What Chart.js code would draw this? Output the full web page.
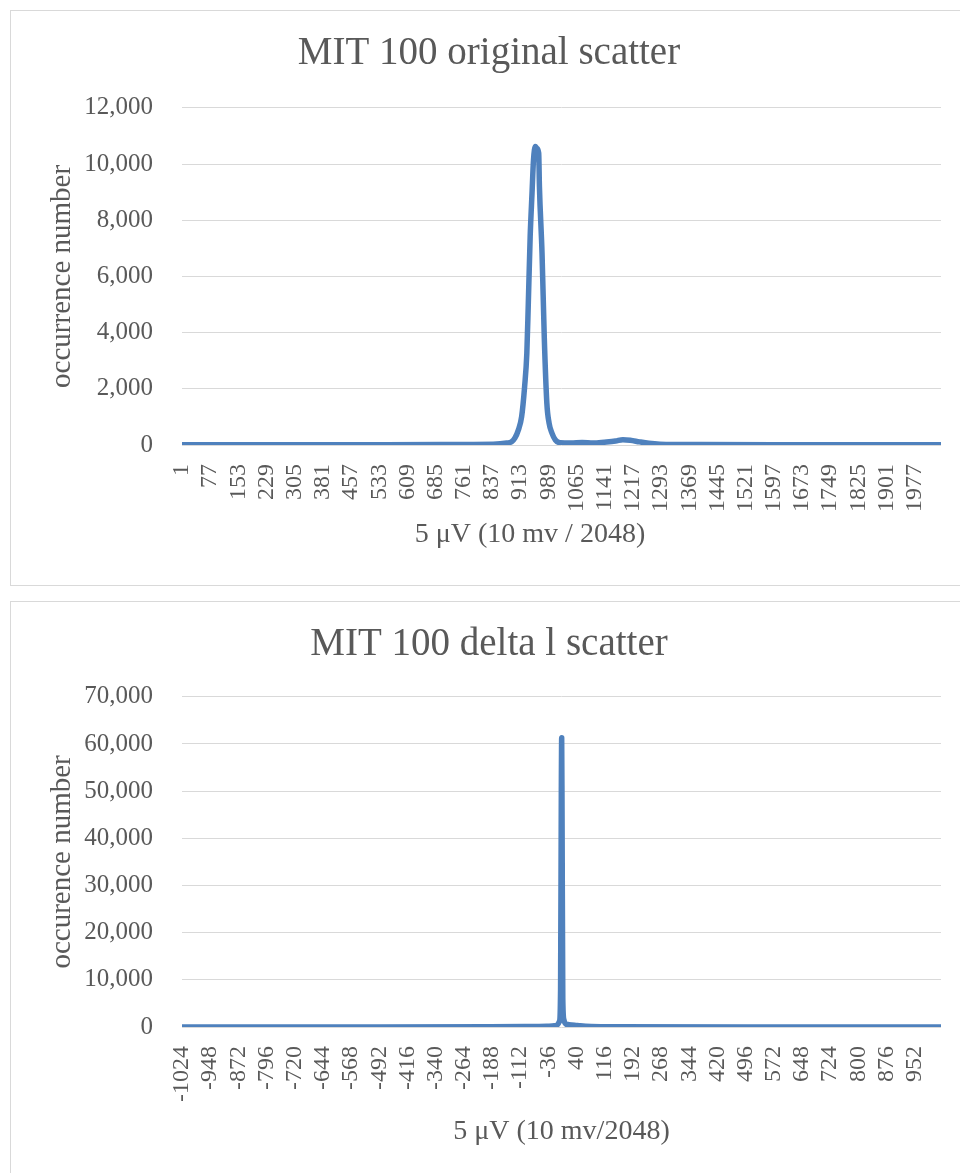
<!DOCTYPE html>
<html>
<head>
<meta charset="utf-8">
<title>MIT 100 scatter</title>
<script src="https://cdn.jsdelivr.net/npm/chart.js@4.4.1/dist/chart.umd.min.js"></script>
<style>
  html, body { margin: 0; padding: 0; background: #fff; overflow: hidden; }
  body { width: 960px; height: 1173px; position: relative; }
  .panel { position: absolute; left: 10px; width: 980px; border: 1px solid #d9d9d9; box-sizing: border-box; background: #fff; }
  #panelTop { top: 10px; height: 576px; }
  #panelBottom { top: 601px; height: 620px; }
  canvas { display: block; }
</style>
</head>
<body>
<div class="panel" id="panelTop"><canvas id="originalChart" width="949" height="573"></canvas></div>
<div class="panel" id="panelBottom"><canvas id="deltaChart" width="949" height="575"></canvas></div>
<script>
// Original signal histogram (x = sample value, y = occurrences)
const originalX = [1, 400, 700, 840, 877, 890, 899, 908, 917, 925, 931, 935, 940, 945, 949, 954, 958, 963, 965, 972, 978, 985, 991, 999, 1008, 1021, 1050, 1080, 1110, 1140, 1170, 1190, 1210, 1235, 1260, 1290, 1400, 1700, 2048];
const originalY = [5, 10, 15, 25, 70, 117, 250, 530, 1010, 2075, 3265, 5045, 7415, 8960, 10145, 10620, 10560, 10385, 9185, 6825, 3855, 1485, 780, 415, 180, 80, 70, 90, 70, 100, 140, 190, 170, 110, 60, 30, 15, 8, 5];
const originalTicks = [1, 77, 153, 229, 305, 381, 457, 533, 609, 685, 761, 837, 913, 989, 1065, 1141, 1217, 1293, 1369, 1445, 1521, 1597, 1673, 1749, 1825, 1901, 1977];

// Delta histogram (x = difference between samples, y = occurrences)
const deltaX = [-1024, -500, -200, -100, -40, -15, -6, -3, -1, 0, 1, 3, 6, 12, 20, 35, 50, 80, 150, 500, 1023];
const deltaY = [5, 10, 40, 80, 150, 300, 1200, 8000, 50000, 61300, 45000, 6000, 1500, 600, 500, 400, 250, 100, 40, 10, 5];
const deltaTicks = [-1024, -948, -872, -796, -720, -644, -568, -492, -416, -340, -264, -188, -112, -36, 40, 116, 192, 268, 344, 420, 496, 572, 648, 724, 800, 876, 952];

Chart.defaults.font.family = "'Liberation Serif', 'Times New Roman', serif";
Chart.defaults.color = '#595959';

document.addEventListener('DOMContentLoaded', function() {
    makeHistogram('originalChart', {
        title: 'MIT 100 original scatter',
        // trailing spaces push the axis title a bit left, like the original
        xTitle: '5 μV (10 mv / 2048)         ',
        yTitle: 'occurrence number',
        xs: originalX, ys: originalY, xTicks: originalTicks,
        xMin: 1, xMax: 2048, yMax: 12000, yStep: 2000,
        titleBottom: 31, xHeight: 139, xTitlePad: 33
    });

    makeHistogram('deltaChart', {
        title: 'MIT 100 delta l scatter',
        xTitle: '5 μV (10 mv/2048)',
        yTitle: 'occurence number',
        xs: deltaX, ys: deltaY, xTicks: deltaTicks,
        xMin: -1024, xMax: 1023, yMax: 70000, yStep: 10000,
        titleBottom: 29, xHeight: 150, xTitlePad: 29
    });
});

function makeHistogram(canvasId, cfg) {
    const ctx = document.getElementById(canvasId);
    const points = cfg.xs.map((x, i) => ({ x: x, y: cfg.ys[i] }));

    return new Chart(ctx, {
        type: 'line',
        data: {
            datasets: [{
                data: points,
                borderColor: '#4F81BD',
                borderWidth: 5.5,
                pointRadius: 0,
                cubicInterpolationMode: 'monotone',
                borderCapStyle: 'round',
                borderJoinStyle: 'round'
            }]
        },
        options: {
            responsive: false,
            animation: false,
            // left padding moves the chart title centre to where it sits in the original
            layout: { padding: { left: 26, right: 19, top: 0, bottom: 0 } },
            plugins: {
                legend: { display: false },
                tooltip: { enabled: false },
                title: {
                    display: true,
                    text: cfg.title,
                    color: '#595959',
                    font: { size: 39, weight: 'normal' },
                    padding: { top: 19, bottom: cfg.titleBottom }
                }
            },
            scales: {
                x: {
                    type: 'linear',
                    min: cfg.xMin,
                    max: cfg.xMax,
                    afterBuildTicks: function(scale) {
                        scale.ticks = cfg.xTicks.map(v => ({ value: v }));
                    },
                    afterFit: function(scale) {
                        scale.height = cfg.xHeight;
                    },
                    grid: { display: false },
                    border: { display: false },
                    ticks: {
                        autoSkip: false,
                        minRotation: 90,
                        maxRotation: 90,
                        padding: 11,
                        font: { size: 24 },
                        callback: v => String(v)
                    },
                    title: {
                        display: true,
                        text: cfg.xTitle,
                        font: { size: 28 },
                        padding: { top: 0, bottom: cfg.xTitlePad }
                    }
                },
                y: {
                    min: 0,
                    max: cfg.yMax,
                    afterFit: function(scale) {
                        scale.width = 145;
                    },
                    grid: { color: '#d9d9d9', lineWidth: 1, drawTicks: false },
                    border: { display: false },
                    ticks: {
                        stepSize: cfg.yStep,
                        padding: 29,
                        font: { size: 25 },
                        callback: v => v.toLocaleString('en-US')
                    },
                    title: {
                        display: true,
                        text: cfg.yTitle,
                        font: { size: 29 },
                        padding: { top: 8, bottom: 0 }
                    }
                }
            }
        }
    });
}
</script>
</body>
</html>
